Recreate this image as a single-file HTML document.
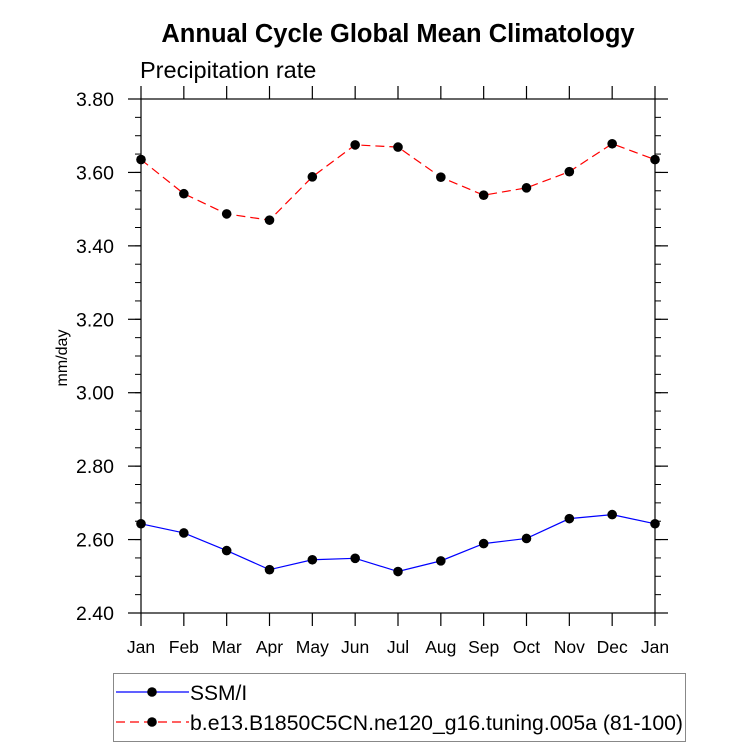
<!DOCTYPE html>
<html><head><meta charset="utf-8"><style>
body{margin:0;background:#fff}
svg{display:block;font-family:"Liberation Sans",sans-serif}
</style></head><body>
<svg id="chart" width="733" height="748" viewBox="0 0 733 748" xmlns="http://www.w3.org/2000/svg">
<rect width="733" height="748" fill="#fff"/>
<text x="398" y="42" text-anchor="middle" font-size="25.5" font-weight="bold">Annual Cycle Global Mean Climatology</text>
<text x="140" y="78" font-size="23.5">Precipitation rate</text>
<text transform="translate(67,358) rotate(-90)" text-anchor="middle" font-size="16">mm/day</text>
<g id="axes"></g>
<g id="series"></g>
<g>
<rect x="113.5" y="673.5" width="572" height="68" fill="none" stroke="#888" stroke-width="1"/>
<g>
<line x1="116" y1="692" x2="189" y2="692" stroke="#0000ff" stroke-width="1.2"/>
<circle cx="152" cy="692" r="4.8" fill="#000"/>
<text x="190" y="700" font-size="21">SSM/I</text></g>
<g>
<line x1="116" y1="722" x2="189" y2="722" stroke="#ff0000" stroke-width="1.2" stroke-dasharray="9,5"/>
<circle cx="152" cy="722" r="4.8" fill="#000"/>
<text x="190" y="730" font-size="21" textLength="493" lengthAdjust="spacingAndGlyphs">b.e13.B1850C5CN.ne120_g16.tuning.005a (81-100)</text></g>
</g>
</svg>
<script>
const months = ["Jan","Feb","Mar","Apr","May","Jun","Jul","Aug","Sep","Oct","Nov","Dec","Jan"];
const ssmi = [2.643,2.618,2.570,2.518,2.545,2.549,2.513,2.542,2.589,2.603,2.657,2.668,2.643];
const model = [3.635,3.542,3.487,3.470,3.588,3.675,3.669,3.587,3.538,3.558,3.602,3.678,3.635];
const yTicks = ["2.40","2.60","2.80","3.00","3.20","3.40","3.60","3.80"];
const NS="http://www.w3.org/2000/svg";
const L=141,R=655,T=99,B=613,YMIN=2.4,YMAX=3.8;
const xs=i=>L+(R-L)*i/(months.length-1);
const ys=v=>B-(v-YMIN)/(YMAX-YMIN)*(B-T);
function mk(tag,attrs,parent){const e=document.createElementNS(NS,tag);for(const k in attrs)e.setAttribute(k,attrs[k]);parent.appendChild(e);return e;}
const ax=document.getElementById('axes');
const frame=mk('rect',{x:L,y:T,width:R-L,height:B-T,fill:'none',stroke:'#000','stroke-width':1.2},ax);


months.forEach((m,i)=>{const x=xs(i);
mk('line',{x1:x,y1:B,x2:x,y2:B+13,stroke:'#000','stroke-width':1.2},ax);
mk('line',{x1:x,y1:T,x2:x,y2:T-13,stroke:'#000','stroke-width':1.2},ax);
const t=mk('text',{x:x,y:B+40,'text-anchor':'middle','font-size':17.5},ax);t.textContent=m;

});
for(let v=YMIN;v<=YMAX+1e-6;v+=0.05){const y=ys(v);
mk('line',{x1:L,y1:y,x2:L-6,y2:y,stroke:'#000','stroke-width':1},ax);
mk('line',{x1:R,y1:y,x2:R+6,y2:y,stroke:'#000','stroke-width':1},ax);}
yTicks.forEach(s=>{const y=ys(parseFloat(s));
mk('line',{x1:L,y1:y,x2:L-13,y2:y,stroke:'#000','stroke-width':1.2},ax);
mk('line',{x1:R,y1:y,x2:R+13,y2:y,stroke:'#000','stroke-width':1.2},ax);
const t=mk('text',{x:114,y:y+7,'text-anchor':'end','font-size':19.5},ax);t.textContent=s;

});
const sg=document.getElementById('series');
function draw(arr,color,dash,name){
const p=mk('polyline',{points:arr.map((v,i)=>xs(i)+','+ys(v)).join(' '),fill:'none',stroke:color,'stroke-width':1.2,'stroke-dasharray':dash},sg);


arr.forEach((v,i)=>{const c=mk('circle',{cx:xs(i),cy:ys(v),r:4.8,fill:'#000'},sg);

});}
draw(model,'#ff0000','9,5','model');
draw(ssmi,'#0000ff','none','ssmi');
</script>
</body></html>
